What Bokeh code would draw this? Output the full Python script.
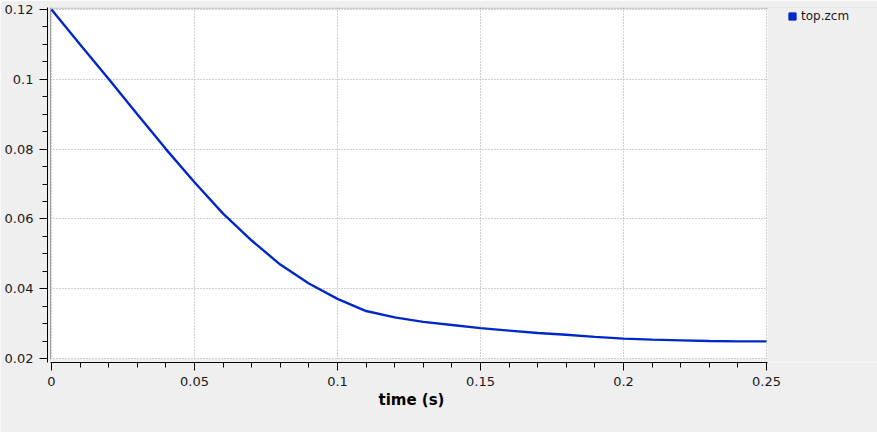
import numpy as np
from bokeh.plotting import figure
from bokeh.models import (FixedTicker, Range1d, Legend, LegendItem, ColumnDataSource,
                          Span, Title)
from bokeh.embed import file_html
from bokeh.resources import INLINE

# ---- data ----
time_s = [0.00, 0.01, 0.02, 0.03, 0.04, 0.05, 0.06, 0.07, 0.08, 0.09,
          0.10, 0.11, 0.12, 0.13, 0.14, 0.15, 0.16, 0.17, 0.18, 0.19,
          0.20, 0.21, 0.22, 0.23, 0.24, 0.25]
top_zcm = [0.1200, 0.1100, 0.1001, 0.0900, 0.0800, 0.0705, 0.0615, 0.0538, 0.0469, 0.0415,
           0.0371, 0.0336, 0.0318, 0.0305, 0.0296, 0.0287, 0.0280, 0.0273, 0.0268, 0.0262,
           0.0257, 0.0254, 0.0252, 0.0250, 0.0249, 0.0249]
series_name = "top.zcm"
x_label = "time (s)"
x_ticks = [0.0, 0.05, 0.1, 0.15, 0.2, 0.25]
x_tick_labels = ["0", "0.05", "0.1", "0.15", "0.2", "0.25"]
y_ticks = [0.02, 0.04, 0.06, 0.08, 0.1, 0.12]
y_tick_labels = ["0.02", "0.04", "0.06", "0.08", "0.1", "0.12"]

LINE_COLOR = "#0028c8"
BG = "#efefef"
FONT = "DejaVu Sans"
TXT = "#1a1a1a"

# pixel geometry (screen px per data unit)
x_px = 715 / 0.25
y_px = 349 / 0.10
W, H = 877, 432
LEFT, TOP, BOTTOM = 47, 7, 70
x_start = x_ticks[0] - 4 / x_px
x_end = x_start + (W - LEFT) / x_px
y_start = y_ticks[0] - 4 / y_px
y_end = y_start + (H - TOP - BOTTOM) / y_px
x_max = x_ticks[-1] + 1 / x_px

p = figure(width=W, height=H, output_backend="svg", toolbar_location=None,
           min_border_left=LEFT, min_border_right=0, min_border_top=TOP, min_border_bottom=BOTTOM,
           x_range=Range1d(x_start, x_end), y_range=Range1d(y_start, y_end))

p.background_fill_color = "white"
p.border_fill_color = BG
p.outline_line_color = None

# axes
x_minor = list(np.round(np.arange(x_ticks[0], x_ticks[-1] + 1e-9, 0.01), 4))
y_minor = list(np.round(np.arange(y_ticks[0], y_ticks[-1] + 1e-9, 0.005), 4))
p.xaxis.ticker = FixedTicker(ticks=x_ticks, minor_ticks=x_minor)
p.yaxis.ticker = FixedTicker(ticks=y_ticks, minor_ticks=y_minor)
p.xaxis.major_label_overrides = {t: l for t, l in zip(x_ticks, x_tick_labels)}
p.yaxis.major_label_overrides = {t: l for t, l in zip(y_ticks, y_tick_labels)}
p.xaxis.bounds = (x_ticks[0] - 1 / x_px, x_max)

for ax in (p.xaxis, p.yaxis):
    ax.axis_line_color = "black"
    ax.major_tick_line_color = "black"
    ax.minor_tick_line_color = "black"
    ax.major_tick_out = 8
    ax.major_tick_in = 0
    ax.minor_tick_out = 5
    ax.minor_tick_in = 0
    ax.major_label_text_font = FONT
    ax.major_label_text_font_size = "13px"
    ax.major_label_text_color = TXT
    ax.major_label_standoff = 6

# x-axis title, centred under the plotted area (not under the whole frame)
xt = Title(text=x_label, align="left", offset=331, text_font=FONT, text_font_size="15px",
           text_font_style="bold", text_color="black", standoff=0)
p.add_layout(xt, "below")

# grid
for g in (p.xgrid, p.ygrid):
    g.grid_line_color = "#a0a0a0"
    g.grid_line_dash = "1 2"
    g.grid_line_width = 1
p.xgrid.ticker = p.xaxis.ticker
p.ygrid.ticker = p.yaxis.ticker

# solid grey top/left edges of the plotting area (underneath the grey masks)
p.add_layout(Span(location=y_ticks[-1] + 1.5 / y_px, dimension="width",
                  line_color="#a0a0a0", line_width=1, level="underlay"))
p.add_layout(Span(location=x_ticks[0] - 1 / x_px, dimension="height",
                  line_color="#a0a0a0", line_width=1, level="underlay"))

# grey masks: left gap, bottom gap, and the area right of the plot (legend area)
mask_left = [x_start, x_start, x_max]
mask_right = [x_ticks[0] - 1.5 / x_px, x_end, x_end]
mask_bottom = [y_start, y_start, y_start]
mask_top = [y_end, y_ticks[0] - 0.6 / y_px, y_end]
p.quad(left=mask_left, right=mask_right, bottom=mask_bottom, top=mask_top,
       fill_color=BG, line_color=None)

src = ColumnDataSource(dict(t=time_s, v=top_zcm))
p.line("t", "v", source=src, line_color=LINE_COLOR, line_width=2.4)

# legend proxy glyph (square marker, not drawn itself)
sq = p.scatter(x=time_s[:1], y=top_zcm[:1], marker="square", size=8,
               fill_color=LINE_COLOR, line_color=LINE_COLOR, visible=False)

legend = Legend(items=[LegendItem(label=series_name, renderers=[sq])],
                location=(736, 337))
legend.border_line_color = None
legend.background_fill_alpha = 0
legend.label_text_font = FONT
legend.label_text_font_size = "12px"
legend.label_text_color = TXT
legend.glyph_width = 18
legend.glyph_height = 18
legend.label_height = 18
legend.label_standoff = 0
legend.padding = 0
legend.margin = 0
legend.spacing = 0
p.add_layout(legend, "center")

open("out.html", "w").write(file_html(p, INLINE))
